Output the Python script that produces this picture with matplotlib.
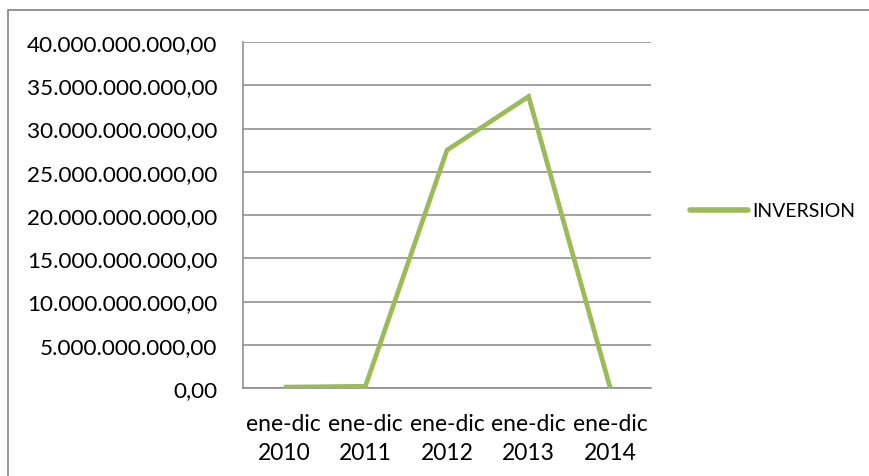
import matplotlib
matplotlib.use("Agg")
import matplotlib.pyplot as plt
from matplotlib.patches import Rectangle
from matplotlib.ticker import FuncFormatter, MultipleLocator

plt.rcParams['font.family'] = ['Lato', 'DejaVu Sans']

categories = ["ene-dic\n2010", "ene-dic\n2011", "ene-dic\n2012", "ene-dic\n2013", "ene-dic\n2014"]
inversion = [0.1e9, 0.2e9, 27.5e9, 33.7e9, 0.0]
series_name = "INVERSION"

LINE_COLOR = "#9BBB59"
GRID_COLOR = "#878787"

fig = plt.figure(figsize=(8.7, 4.77), dpi=100)
ax = fig.add_axes([243 / 870, 1 - 389 / 477, 408 / 870, 346 / 477])

x = [i + 0.5 for i in range(len(categories))]
line, = ax.plot(x, inversion, color=LINE_COLOR, linewidth=3.4,
                solid_joinstyle="miter", solid_capstyle="butt", label=series_name, zorder=3)

ax.set_xlim(0, len(categories))
ax.set_ylim(0, 40e9)
ax.yaxis.set_major_locator(MultipleLocator(5e9))


def es_format(v, pos):
    s = f"{v:,.2f}"
    return s.replace(",", "X").replace(".", ",").replace("X", ".")


ax.yaxis.set_major_formatter(FuncFormatter(es_format))
ax.set_xticks(x)
ax.set_xticklabels(categories, linespacing=1.45)

ax.grid(axis="y", color=GRID_COLOR, linewidth=1.1)
ax.set_axisbelow(True)
for side in ("top", "right"):
    ax.spines[side].set_visible(False)
ax.spines["left"].set_color(GRID_COLOR)
ax.spines["left"].set_linewidth(1.1)
ax.spines["bottom"].set_color(GRID_COLOR)
ax.spines["bottom"].set_linewidth(1.1)

ax.tick_params(axis="y", length=0, pad=18.5, labelsize=16.2)
ax.tick_params(axis="x", length=0, pad=18, labelsize=16.5)

# chart-area border (open on the right and bottom)
fig.patches.append(Rectangle((8 / 870, -0.05), 1.2, 1 - 11 / 477 + 0.05,
                             transform=fig.transFigure, fill=False,
                             edgecolor="#8c8c8c", linewidth=1.3))

leg = fig.legend(handles=[line], loc="center left", bbox_to_anchor=(690 / 870, 1 - 212 / 477),
                 frameon=False, fontsize=14, handlelength=3.0, handletextpad=0.2,
                 borderaxespad=0, borderpad=0)
for h in leg.get_lines():
    h.set_linewidth(4)
    h.set_solid_capstyle("round")

fig.savefig("out.png", dpi=100)
